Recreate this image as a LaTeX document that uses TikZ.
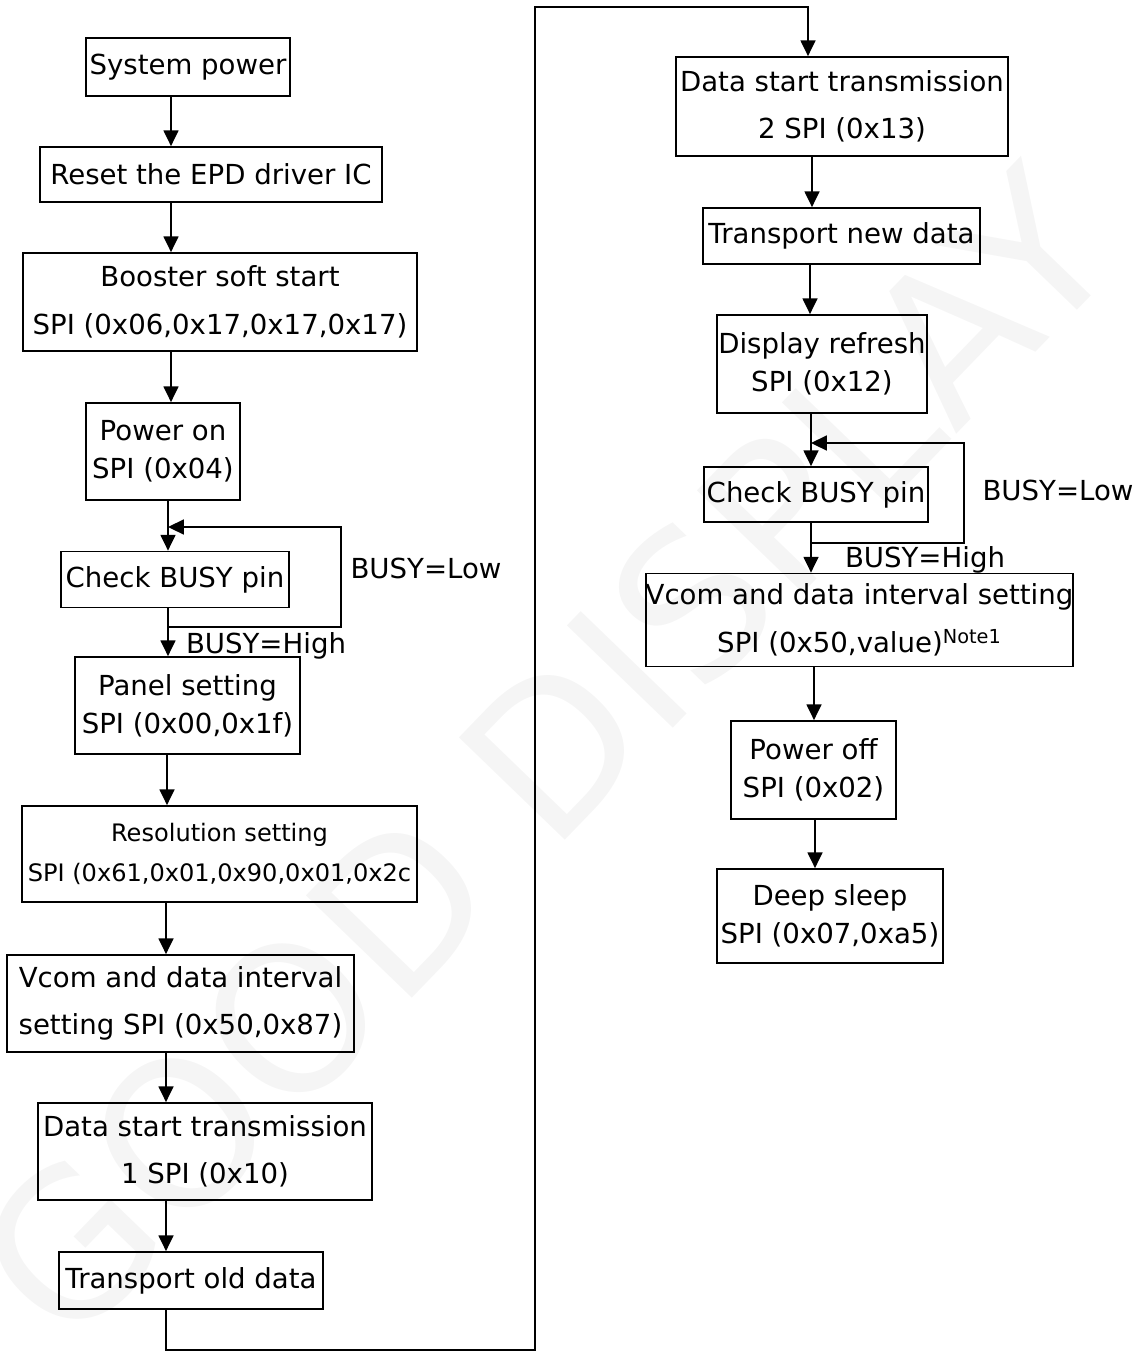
\documentclass[tikz,border=0pt]{standalone}
\usepackage{fontspec}
\setmainfont{DejaVu Sans}
\usetikzlibrary{arrows.meta}

\tikzset{
  blk/.style={draw,line width=1pt,inner sep=0pt,align=center,font=\fontsize{15.7}{27}\selectfont},
  tight/.style={font=\fontsize{15.7}{21.5}\selectfont},
  arr/.style={-{Triangle[length=9pt,width=8.5pt]},line width=1pt},
  lbl/.style={inner sep=0pt,font=\fontsize{15.7}{19}\selectfont},
}

\begin{document}
\begin{tikzpicture}[x=0.02cm,y=-0.02cm]
  \useasboundingbox (0,0) rectangle (1147,1353);
  % watermark
  \node[rotate=46,text=black!4,font=\fontsize{115}{115}\selectfont] (mark) at (545,755) {GOOD DISPLAY};

  % left column
  \node[blk,minimum width=4.08cm,minimum height=1.16cm] (syspow) at (188,67) {System power};
  \node[blk,minimum width=6.84cm,minimum height=1.10cm] (reset) at (211,174.5) {Reset the EPD driver IC};
  \node[blk,minimum width=7.88cm,minimum height=1.96cm] (boost) at (220,302) {Booster soft start\\SPI (0x06,0x17,0x17,0x17)};
  \node[blk,tight,minimum width=3.08cm,minimum height=1.94cm] (pon) at (163,451.5) {Power on\\SPI (0x04)};
  \node[blk,minimum width=4.56cm,minimum height=1.12cm] (busyA) at (175,579.5) {Check BUSY pin};
  \node[blk,tight,minimum width=4.50cm,minimum height=1.94cm] (panel) at (187.5,705.5) {Panel setting\\SPI (0x00,0x1f)};
  \node[blk,font=\fontsize{13.7}{23}\selectfont,minimum width=7.90cm,minimum height=1.92cm] (res) at (219.5,854) {Resolution setting\\SPI (0x61,0x01,0x90,0x01,0x2c};
  \node[blk,minimum width=6.94cm,minimum height=1.94cm] (vcomA) at (180.5,1003.5) {Vcom and data interval\\setting SPI (0x50,0x87)};
  \node[blk,minimum width=6.68cm,minimum height=1.94cm] (dtmA) at (205,1151.5) {Data start transmission\\1 SPI (0x10)};
  \node[blk,minimum width=5.28cm,minimum height=1.14cm] (olddat) at (191,1280.5) {Transport old data};

  % right column
  \node[blk,minimum width=6.64cm,minimum height=1.98cm] (dtmB) at (842,106.5) {Data start transmission\\2 SPI (0x13)};
  \node[blk,minimum width=5.54cm,minimum height=1.12cm] (newdat) at (841.5,236) {Transport new data};
  \node[blk,tight,minimum width=4.20cm,minimum height=1.96cm] (refresh) at (822,364) {Display refresh\\SPI (0x12)};
  \node[blk,minimum width=4.48cm,minimum height=1.10cm] (busyB) at (816,494.5) {Check BUSY pin};
  \node[blk,minimum width=8.26cm,minimum height=1.86cm] (vcomB) at (859.5,620) {Vcom and data interval setting\\SPI (0x50,value)\textsuperscript{Note1}};
  \node[blk,tight,minimum width=3.30cm,minimum height=1.96cm] (poff) at (813.5,770) {Power off\\SPI (0x02)};
  \node[blk,tight,minimum width=4.52cm,minimum height=1.88cm] (sleep) at (830,916) {Deep sleep\\SPI (0x07,0xa5)};

  % flow, left
  \draw[arr] (syspow.south -| 171,0) -- (reset.north -| 171,0);
  \draw[arr] (reset.south -| 171,0) -- (boost.north -| 171,0);
  \draw[arr] (boost.south -| 171,0) -- (pon.north -| 171,0);
  \draw[arr] (pon.south -| 168,0) -- (busyA.north -| 168,0);
  \draw[arr] (busyA.south -| 168,0) -- (panel.north -| 168,0);
  \draw[arr] (panel.south -| 167,0) -- (res.north -| 167,0);
  \draw[arr] (res.south -| 166,0) -- (vcomA.north -| 166,0);
  \draw[arr] (vcomA.south -| 166,0) -- (dtmA.north -| 166,0);
  \draw[arr] (dtmA.south -| 166,0) -- (olddat.north -| 166,0);
  % busy loop, left
  \coordinate (inA) at (168,527);
  \coordinate (outA) at (168,627);
  \draw[arr] (outA) -| (341,527) -- (inA);
  \node[lbl] (lowA) at (426,568) {BUSY=Low};
  \node[lbl] (highA) at (266,646) {BUSY=High};

  % over to the right column
  \draw[arr] (olddat.south -| 166,0) -- (166,1350) -- (535,1350) -- (535,7) -- (808,7) -- (dtmB.north -| 808,0);

  % flow, right
  \draw[arr] (dtmB.south -| 812,0) -- (newdat.north -| 812,0);
  \draw[arr] (newdat.south -| 810,0) -- (refresh.north -| 810,0);
  \draw[arr] (refresh.south -| 811,0) -- (busyB.north -| 811,0);
  \draw[arr] (busyB.south -| 811,0) -- (vcomB.north -| 811,0);
  \draw[arr] (vcomB.south -| 814,0) -- (poff.north -| 814,0);
  \draw[arr] (poff.south -| 815,0) -- (sleep.north -| 815,0);
  % busy loop, right
  \coordinate (inB) at (811,443);
  \coordinate (outB) at (811,543);
  \draw[arr] (outB) -| (964,443) -- (inB);
  \node[lbl] (lowB) at (1058,490) {BUSY=Low};
  \node[lbl] (highB) at (925,560) {BUSY=High};
\end{tikzpicture}
\end{document}
